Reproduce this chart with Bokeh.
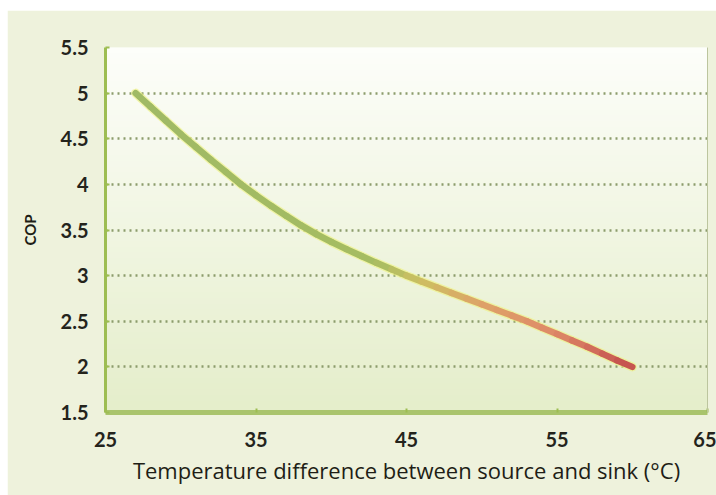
import numpy as np
from bokeh.plotting import figure
from bokeh.models import ColumnDataSource, FixedTicker, LinearAxis, Range1d, Spacer
from bokeh.layouts import column, row
from bokeh.embed import file_html
from bokeh.resources import INLINE

# ---- data ----
temp_diff = [27, 28, 29, 30, 31, 32, 33, 34, 35, 36, 37, 38, 39, 40, 41, 42, 43, 44,
             45, 46, 47, 48, 49, 50, 51, 52, 53, 54, 55, 56, 57, 58, 59, 60]
cop = [5.00, 4.85, 4.70, 4.55, 4.41, 4.27, 4.135, 4.00, 3.88, 3.765, 3.655, 3.55,
       3.455, 3.37, 3.29, 3.215, 3.14, 3.07, 3.00, 2.935, 2.872, 2.81, 2.748, 2.686,
       2.624, 2.562, 2.50, 2.43, 2.36, 2.29, 2.22, 2.145, 2.07, 2.00]
x_ticks = [25, 35, 45, 55, 65]
x_tick_labels = ["25", "35", "45", "55", "65"]
y_ticks = [1.5, 2, 2.5, 3, 3.5, 4, 4.5, 5, 5.5]
y_tick_labels = ["1.5", "2", "2.5", "3", "3.5", "4", "4.5", "5", "5.5"]
x_label = "Temperature difference between source and sink (°C)"
y_label = "COP"

X_MIN, X_MAX = 25, 65
Y_MIN, Y_MAX = 1.5, 5.5

FONT = "Lato"
GREEN = "#9dbd52"

p = figure(frame_width=602, frame_height=365, output_backend="svg", toolbar_location=None,
           x_range=Range1d(X_MIN, X_MAX), y_range=Range1d(Y_MIN, Y_MAX),
           min_border_left=98, min_border_right=9, min_border_top=37, min_border_bottom=83)

p.border_fill_color = "#eef2dc"
p.background_fill_color = "#f6f9ec"
p.outline_line_color = None

# vertical gradient for plot background
n = 64
top = np.array([253, 254, 250])
bot = np.array([229, 238, 203])
t = np.linspace(0, 1, n)[:, None]
rgb = (bot * (1 - t) + top * t).astype(np.uint32)  # row 0 = bottom
img = np.empty((n, 1), dtype=np.uint32)
view = img.view(dtype=np.uint8).reshape((n, 1, 4))
view[:, 0, 0] = rgb[:, 0]
view[:, 0, 1] = rgb[:, 1]
view[:, 0, 2] = rgb[:, 2]
view[:, 0, 3] = 255
p.image_rgba(image=[img], x=X_MIN, y=Y_MIN, dw=X_MAX - X_MIN, dh=Y_MAX - Y_MIN, level="image")

# grid
p.xgrid.grid_line_color = None
p.ygrid.grid_line_color = "#8c9c6c"
p.ygrid.grid_line_dash = "2 4"
p.ygrid.grid_line_width = 2.5
p.ygrid.ticker = FixedTicker(ticks=y_ticks)

# curve colours along the line
stops_x = [27, 43, 46, 50, 55, 60]
stops_c = ["#a0ba66", "#a6bd62", "#cdc062", "#dea468", "#de8a68", "#c4504e"]
def hex2rgb(h):
    return np.array([int(h[i:i + 2], 16) for i in (1, 3, 5)], dtype=float)
cs = np.array([hex2rgb(c) for c in stops_c])

xs, ys, cols = [], [], []
for i in range(len(temp_diff) - 1):
    xs.append([temp_diff[i], temp_diff[i + 1]])
    ys.append([cop[i], cop[i + 1]])
    xm = 0.5 * (temp_diff[i] + temp_diff[i + 1])
    r = np.interp(xm, stops_x, cs[:, 0])
    g = np.interp(xm, stops_x, cs[:, 1])
    b = np.interp(xm, stops_x, cs[:, 2])
    cols.append("#%02x%02x%02x" % (int(r), int(g), int(b)))

p.line(temp_diff, cop, line_color="#eef27a", line_width=9, line_alpha=0.6,
       line_cap="round", line_join="round")
seg = ColumnDataSource(dict(xs=xs, ys=ys, color=cols))
p.multi_line("xs", "ys", source=seg, line_color="color", line_width=6.5,
             line_cap="round", line_join="round")

# axes
for ax in (p.xaxis[0], p.yaxis[0]):
    ax.major_label_text_font = FONT
    ax.major_label_text_font_size = "20px"
    ax.major_label_text_color = "#24241c"
    ax.major_label_text_font_style = "bold"
    ax.axis_label_text_color = "#1e1e16"
    ax.minor_tick_line_color = None
    ax.major_tick_line_color = GREEN
    ax.major_tick_in = 4
    ax.major_tick_out = 0
    ax.major_tick_line_width = 2

p.xaxis.ticker = FixedTicker(ticks=x_ticks)
p.xaxis.major_label_overrides = {t_: l for t_, l in zip(x_ticks, x_tick_labels)}
p.yaxis.ticker = FixedTicker(ticks=y_ticks)
p.yaxis.major_label_overrides = {t_: l for t_, l in zip(y_ticks, y_tick_labels)}

p.xaxis.axis_line_color = "#a9c46c"
p.xaxis.axis_line_width = 5
p.xaxis.major_label_standoff = 19
p.xaxis.axis_label = x_label
p.xaxis.axis_label_text_font = "Open Sans"
p.xaxis.axis_label_text_font_size = "22px"
p.xaxis.axis_label_text_font_style = "normal"
p.xaxis.axis_label_standoff = 5

p.yaxis.axis_line_color = GREEN
p.yaxis.axis_line_width = 3
p.yaxis.major_label_standoff = 17
p.yaxis.axis_label = y_label
p.yaxis.axis_label_text_font = FONT
p.yaxis.axis_label_text_font_size = "15px"
p.yaxis.axis_label_text_font_style = "bold"
p.yaxis.axis_label_standoff = 19

# thin right frame edge
right = LinearAxis(ticker=FixedTicker(ticks=[]), axis_line_color="#bcc59e", axis_line_width=1,
                   major_tick_line_color=None, minor_tick_line_color=None,
                   major_label_text_font_size="0px")
p.add_layout(right, "right")

page = column(Spacer(height=10, width=716),
              row(Spacer(width=7, height=485), p),
              styles={"background-color": "#ffffff"})

open("out.html", "w").write(file_html(page, INLINE))
